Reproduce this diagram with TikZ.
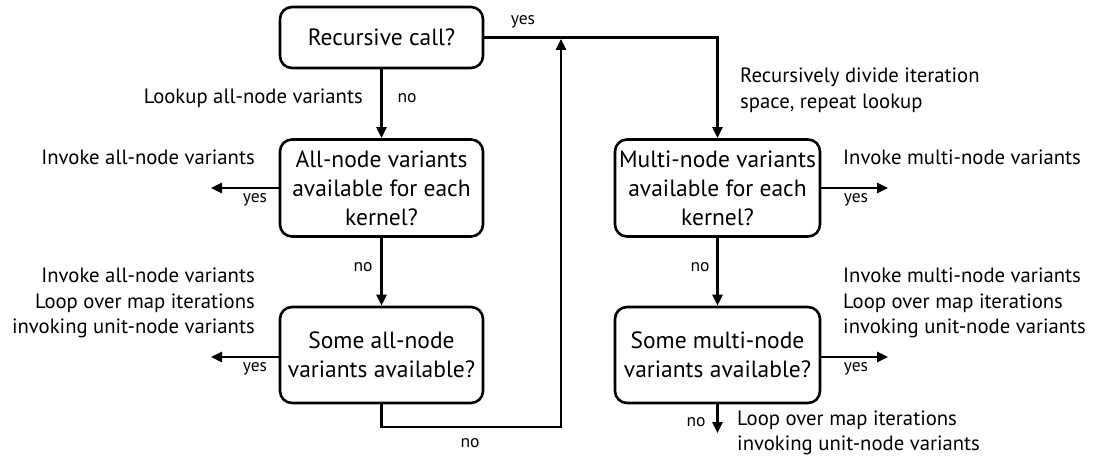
\documentclass[tikz,border=0pt]{standalone}
\usepackage{fontspec}
\setmainfont{PT Sans}
\usetikzlibrary{arrows.meta}
\begin{document}
\begin{tikzpicture}[x=1pt,y=-1pt,
  decision/.style={draw,line width=2.6pt,rounded corners=12pt,align=center,
    font=\fontsize{23.5}{29}\selectfont,inner sep=0pt},
  flow/.style={line width=2.5pt,-{Triangle[length=11pt,width=10pt]}},
  note/.style={font=\fontsize{20.7}{25.5}\selectfont,inner sep=0pt},
  tag/.style={font=\fontsize{17.5}{20}\selectfont,inner sep=0pt}]
\useasboundingbox (0,0) rectangle (1096,460);

% decision boxes
\node[decision,minimum width=203pt,minimum height=61pt] (rec) at (381.5,37.5) {Recursive call?};
\node[decision,minimum width=203pt,minimum height=97pt] (alln) at (381.5,188) {All-node variants\\available for each\\kernel?};
\node[decision,minimum width=203pt,minimum height=96pt] (somea) at (381.5,355) {Some all-node\\variants available?};
\node[decision,minimum width=205pt,minimum height=97pt] (multi) at (717.5,188) {Multi-node variants\\available for each\\kernel?};
\node[decision,minimum width=205pt,minimum height=96pt] (somem) at (717.5,355) {Some multi-node\\variants available?};

% loose ends and bends
\coordinate (ayes) at (211,188);
\coordinate (byes) at (211,357);
\coordinate (cyes) at (888,188);
\coordinate (dyes) at (888,357);
\coordinate (mno) at (717.5,433);
\coordinate (b1) at (381.5,427);
\coordinate (b2) at (561,427);
\coordinate (up) at (561,39);
\coordinate (t1) at (717.5,37.5);

% connectors
\draw[flow] (rec) -- (alln);
\draw[flow] (alln) -- (somea);
\draw[flow] (multi) -- (somem);
\draw[flow] (rec.east) -- (t1) -- (multi.north);
\draw[flow] (somea.south) -- (b1) -- (b2) -- (up);
\draw[flow] (alln.west) -- (ayes);
\draw[flow] (somea.west |- byes) -- (byes);
\draw[flow] (multi.east) -- (cyes);
\draw[flow] (somem.east |- dyes) -- (dyes);
\draw[flow] (somem.south) -- (mno);

% branch tags
\node[tag] (t-yes0) at (523,22) {yes};
\node[tag] (t-no0) at (407,98) {no};
\node[tag] (t-yes1) at (255,200) {yes};
\node[tag] (t-no1) at (363,267) {no};
\node[tag] (t-yes2) at (255,369) {yes};
\node[tag] (t-no2) at (470,443) {no};
\node[tag] (t-yes3) at (856,200) {yes};
\node[tag] (t-no3) at (700,267) {no};
\node[tag] (t-yes4) at (856,369) {yes};
\node[tag] (t-no4) at (696,422) {no};

% actions
\node[note,anchor=east] (n0) at (363,98) {Lookup all-node variants};
\node[note,anchor=west,align=left] (n1) at (740,90) {Recursively divide iteration\\space, repeat lookup};
\node[note,anchor=east] (n2) at (255,157) {Invoke all-node variants};
\node[note,anchor=east,align=right] (n3) at (255,303) {Invoke all-node variants\\Loop over map iterations\\invoking unit-node variants};
\node[note,anchor=west] (n4) at (843,157) {Invoke multi-node variants};
\node[note,anchor=west,align=left] (n5) at (843,303) {Invoke multi-node variants\\Loop over map iterations\\invoking unit-node variants};
\node[note,anchor=west,align=left] (n6) at (737,433) {Loop over map iterations\\invoking unit-node variants};
\end{tikzpicture}
\end{document}
